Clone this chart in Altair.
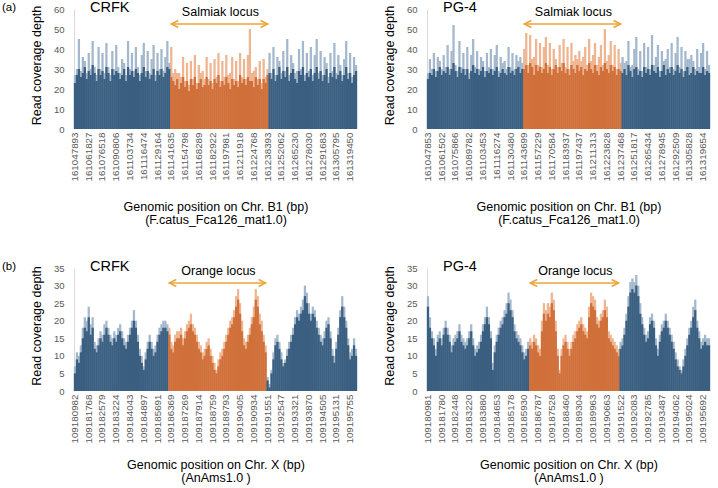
import json

import altair as alt
import pandas as pd

FONT = "Liberation Sans"
BLUE = "#3b5f80"
BLUE_TIP = "#a3b8cc"
ORANGE = "#d0703a"
ORANGE_TIP = "#efb590"
ARROW = "#eca43a"
LABEL_GREY = "#595959"

# ---- (a) Chr. B1, Salmiak locus -------------------------------------------
b1_crfk_ticks = ["161047893", "161061827", "161076518", "161090806", "161103734",
                 "161116474", "161129164", "161141635", "161154798", "161168289",
                 "161182922", "161197981", "161211918", "161224768", "161238393",
                 "161252062", "161265230", "161278030", "161291683", "161305795",
                 "161319450"]
b1_pg4_ticks = ["161047853", "161061502", "161075866", "161089782", "161103453",
                "161116274", "161130480", "161143699", "161157229", "161170584",
                "161183937", "161197437", "161211313", "161223828", "161237468",
                "161251817", "161265434", "161278945", "161292509", "161305828",
                "161319654"]

# per-bin peak depth (tip) and typical depth (depth)
b1_crfk_tip = [
    27, 30, 45, 29, 36, 34, 28, 38, 30, 44, 31, 27, 41, 30, 38, 28, 43, 31, 27, 39,
    30, 42, 31, 28, 35, 33, 27, 44, 30, 38, 29, 41, 31, 27, 37, 43, 29, 39, 28, 35,
    42, 27, 38, 30, 40, 29, 36, 44, 33,
    41, 28, 30, 28, 28, 26, 36, 24, 33, 22, 34, 25, 37, 23, 32, 28, 29, 25, 36, 25,
    33, 23, 35, 26, 38, 24, 34, 26, 37, 27, 28, 36, 25, 34, 24, 38, 26, 35, 25, 37,
    50, 28, 29, 31, 25, 34, 23, 35, 26, 30,
    38, 28, 41, 27, 36, 34, 28, 39, 29, 45, 27, 37, 33, 28, 29, 40, 30, 44, 27, 38,
    29, 41, 27, 37, 45, 28, 39, 27, 36, 33, 26, 38, 29, 43, 28, 37, 32, 27, 35, 44,
    28, 38, 26, 36, 32]
b1_crfk_depth = [
    23, 27, 30, 26, 28, 31, 25, 29, 27, 32, 28, 24, 30, 27, 29, 25, 31, 28, 24, 30,
    27, 29, 28, 25, 27, 30, 24, 31, 27, 29, 26, 30, 28, 24, 28, 31, 26, 29, 25, 27,
    30, 24, 29, 27, 30, 26, 28, 31, 30,
    26, 24, 22, 25, 20, 23, 26, 21, 24, 19, 25, 22, 26, 20, 23, 25, 21, 22, 26, 22,
    24, 20, 25, 23, 27, 21, 24, 22, 26, 23, 20, 25, 22, 24, 21, 27, 23, 25, 22, 26,
    24, 24, 21, 26, 22, 25, 20, 25, 23, 27,
    28, 25, 30, 24, 27, 31, 25, 29, 26, 31, 24, 28, 30, 25, 23, 29, 27, 31, 24, 28,
    26, 30, 24, 28, 31, 25, 29, 24, 27, 30, 23, 28, 26, 31, 25, 27, 29, 24, 27, 31,
    25, 28, 23, 27, 29]
b1_pg4_tip = [
    28, 35, 30, 38, 29, 36, 34, 30, 37, 31, 42, 30, 39, 52, 32, 29, 44, 31, 38, 30,
    41, 28, 37, 45, 31, 39, 30, 36, 34, 29, 38, 31, 40, 30, 37, 42, 29, 36, 33, 34,
    30, 41, 31, 38, 30, 37, 34, 36, 33,
    40, 48, 32, 47, 35, 36, 45, 32, 43, 31, 41, 46, 32, 43, 30, 40, 35, 31, 42, 33,
    45, 31, 41, 30, 43, 34, 37, 35, 39, 34, 36, 41, 32, 45, 34, 37, 43, 32, 36, 42,
    32, 50, 34, 37, 44, 32, 42, 30, 40, 33,
    36, 33, 34, 44, 31, 32, 40, 46, 30, 39, 29, 43, 31, 41, 30, 47, 32, 36, 42, 29,
    39, 34, 35, 40, 31, 43, 30, 38, 46, 31, 41, 29, 39, 35, 35, 37, 34, 30, 40, 31,
    38, 43, 30, 39, 32]
b1_pg4_depth = [
    25, 28, 27, 30, 26, 29, 31, 27, 29, 28, 31, 27, 30, 33, 29, 26, 31, 28, 30, 27,
    30, 25, 29, 32, 28, 30, 27, 29, 31, 26, 29, 28, 30, 27, 29, 31, 26, 28, 30, 28,
    27, 31, 28, 29, 27, 30, 31, 28, 30,
    30, 32, 28, 33, 31, 27, 32, 29, 31, 28, 30, 33, 28, 31, 27, 30, 32, 28, 31, 29,
    33, 28, 30, 27, 32, 30, 28, 32, 29, 31, 27, 30, 29, 33, 30, 28, 32, 29, 27, 31,
    29, 33, 30, 28, 32, 29, 31, 27, 30, 29,
    28, 30, 27, 32, 29, 26, 30, 31, 27, 29, 26, 31, 28, 30, 27, 32, 29, 28, 31, 26,
    29, 32, 27, 30, 28, 31, 27, 29, 32, 28, 30, 26, 29, 31, 27, 28, 31, 27, 29, 28,
    28, 31, 27, 29, 28]

# ---- (b) Chr. X, Orange locus ---------------------------------------------
x_crfk_ticks = ["109180982", "109181768", "109182579", "109183224", "109184043",
                "109184897", "109185691", "109186369", "109187269", "109187914",
                "109188759", "109189793", "109190405", "109190934", "109191551",
                "109192547", "109193321", "109193870", "109194505", "109195131",
                "109195755"]
x_pg4_ticks = ["109180981", "109181780", "109182448", "109183220", "109183880",
               "109184653", "109185178", "109185930", "109186787", "109187528",
               "109188460", "109189304", "109189963", "109190663", "109191522",
               "109192083", "109192785", "109193487", "109194062", "109195024",
               "109195692"]

x_crfk_tip = [
    7, 11, 10, 13, 18, 21, 20, 24, 19, 21, 14, 13, 15, 17, 16, 19, 20, 18, 16, 15,
    17, 16, 18, 19, 17, 15, 14, 16, 18, 20, 23, 20, 16, 12, 10, 7, 11, 14, 16, 14,
    12, 13, 16, 18, 19, 20, 20, 19, 18, 14, 13, 16, 17, 17, 18, 15, 17, 19, 20, 22,
    19, 18, 16, 14, 13, 11, 12, 14, 15, 12, 10, 8, 6, 9, 11, 12, 14, 16, 18, 20,
    21, 23, 27, 29, 25, 20, 15, 14, 16, 18, 21, 24, 29, 27, 22, 20, 16, 13, 4, 2,
    6, 11, 15, 16, 14, 11, 8, 9, 12, 14, 16, 18, 21, 23, 22, 24, 26, 30, 28, 25,
    22, 24, 23, 20, 18, 16, 15, 17, 20, 21, 17, 12, 10, 14, 18, 23, 27, 24, 20, 15,
    11, 12, 15, 12]
x_crfk_depth = [
    5, 9, 8, 11, 15, 18, 17, 21, 16, 18, 12, 11, 13, 15, 14, 16, 18, 16, 14, 13,
    15, 14, 16, 17, 15, 13, 12, 14, 16, 18, 20, 18, 14, 10, 8, 6, 9, 12, 14, 12,
    10, 11, 14, 16, 17, 18, 18, 17, 16, 12, 11, 14, 15, 15, 16, 13, 15, 17, 18, 19,
    17, 16, 14, 12, 11, 9, 10, 12, 13, 10, 8, 6, 5, 7, 9, 10, 12, 14, 16, 18,
    19, 21, 24, 26, 22, 17, 13, 12, 14, 16, 19, 21, 26, 24, 19, 17, 14, 11, 3, 1,
    5, 9, 13, 14, 12, 9, 7, 8, 10, 12, 14, 16, 19, 21, 20, 22, 23, 27, 25, 22,
    20, 22, 21, 18, 16, 14, 13, 15, 18, 19, 15, 10, 8, 12, 16, 21, 24, 21, 18, 13,
    9, 10, 13, 10]
x_pg4_tip = [
    27, 21, 17, 15, 12, 16, 17, 15, 18, 20, 18, 16, 13, 15, 16, 17, 19, 16, 15, 14,
    15, 17, 19, 15, 12, 13, 14, 16, 19, 21, 24, 21, 17, 8, 13, 16, 18, 20, 21, 23,
    25, 28, 26, 23, 19, 17, 16, 15, 13, 11, 12, 14, 15, 14, 16, 15, 13, 12, 20, 25,
    23, 25, 24, 28, 26, 20, 12, 6, 12, 15, 16, 14, 12, 14, 16, 17, 19, 20, 21, 19,
    18, 17, 24, 28, 27, 26, 21, 20, 22, 23, 26, 24, 17, 16, 15, 14, 13, 12, 14, 15,
    18, 22, 27, 31, 32, 31, 33, 30, 25, 21, 18, 16, 17, 21, 22, 20, 15, 12, 16, 19,
    20, 22, 20, 18, 16, 14, 11, 9, 7, 6, 9, 12, 15, 18, 20, 24, 26, 20, 17, 14,
    15, 16, 15, 15]
x_pg4_depth = [
    24, 18, 15, 13, 10, 14, 15, 13, 16, 18, 16, 14, 11, 13, 14, 15, 17, 14, 13, 12,
    13, 15, 17, 13, 10, 11, 12, 14, 17, 19, 21, 19, 15, 6, 11, 14, 16, 18, 19, 21,
    22, 25, 23, 21, 17, 15, 14, 13, 11, 9, 10, 12, 13, 12, 14, 13, 11, 10, 17, 22,
    20, 22, 21, 25, 23, 17, 10, 5, 10, 13, 14, 12, 10, 12, 14, 15, 17, 18, 19, 17,
    16, 15, 21, 25, 24, 23, 19, 18, 20, 21, 23, 21, 15, 14, 13, 12, 11, 10, 12, 13,
    16, 20, 24, 28, 29, 28, 30, 27, 22, 19, 16, 14, 15, 19, 20, 18, 13, 10, 14, 17,
    18, 20, 18, 16, 14, 12, 9, 7, 6, 5, 7, 10, 13, 16, 18, 21, 23, 18, 15, 12,
    13, 14, 13, 13]

TICK_EVERY = 7  # one labelled position every 7 bins


def coverage_panel(sample, tips, depth, ticks, locus, locus_name, ymax, ystep,
                   height, x_title, title_gap, tag=None):
    n = len(depth)
    assert len(tips) == n, (sample, len(tips), n)
    first, last = locus
    df = pd.DataFrame({
        "bar": list(range(n)),
        "tip": tips,
        "depth": depth,
        "in_locus": [first <= i <= last for i in range(n)],
    })
    ann = pd.DataFrame({"start": [first], "end": [last],
                        "mid": [(first + last + 1) // 2], "label": [locus_name]})

    x = alt.X(
        "bar:O",
        scale=alt.Scale(paddingInner=0, paddingOuter=0),
        axis=alt.Axis(
            values=list(range(0, TICK_EVERY * len(ticks), TICK_EVERY)),
            labelExpr=f"{json.dumps(ticks)}[datum.value / {TICK_EVERY}]",
            labelAngle=-90, labelFontSize=9.8, labelColor=LABEL_GREY,
            labelPadding=3, labelOverlap=False, ticks=False, domain=False,
            title=x_title, titleFontSize=12.5, titleFontWeight="normal",
            titleColor="black", titlePadding=title_gap, titleLineHeight=13.5,
        ),
    )
    y_axis = alt.Axis(
        values=list(range(0, ymax + 1, ystep)), grid=False, ticks=False,
        domainColor="#d9d9d9", labelFontSize=9.5, labelColor=LABEL_GREY,
        labelPadding=10, labelOverlap=False, title="Read coverage depth",
        titleFontSize=12.5, titleFontWeight="normal", titleColor="black",
        titlePadding=10, titleY=height / 2 - 4,
    )
    y_scale = alt.Scale(domain=[0, ymax], nice=False)

    base = alt.Chart(df).encode(x=x)
    tip_bars = base.mark_bar(width={"band": 1.15}).encode(
        y=alt.Y("tip:Q", scale=y_scale, axis=y_axis),
        color=alt.condition("datum.in_locus", alt.value(ORANGE_TIP), alt.value(BLUE_TIP)),
    )
    depth_bars = base.mark_bar(width={"band": 1.15}).encode(
        y=alt.Y("depth:Q", scale=y_scale, axis=y_axis),
        color=alt.condition("datum.in_locus", alt.value(ORANGE), alt.value(BLUE)),
    )

    arrow_y = 15
    a = alt.Chart(ann)
    shaft = a.mark_rule(color=ARROW, strokeWidth=1.5).encode(
        x="start:O", x2="end", y=alt.value(arrow_y))
    head_l = a.mark_point(shape="M2,-1L0,0L2,1", size=49, filled=False,
                          color=ARROW, strokeWidth=1.5, opacity=1).encode(
        x="start:O", y=alt.value(arrow_y))
    head_r = a.mark_point(shape="M-2,-1L0,0L-2,1", size=49, filled=False,
                          color=ARROW, strokeWidth=1.5, opacity=1).encode(
        x="end:O", y=alt.value(arrow_y))
    locus_text = a.mark_text(fontSize=12.5, color="black").encode(
        x="mid:O", y=alt.value(3), text="label:N")
    sample_text = a.mark_text(text=sample, fontSize=14.5, color="black",
                              align="left").encode(x=alt.value(16), y=alt.value(-1))

    layers = [tip_bars, depth_bars, shaft, head_l, head_r, locus_text, sample_text]
    if tag:
        layers.append(a.mark_text(text=tag, fontSize=11.5, color="black",
                                  align="left").encode(x=alt.value(-72), y=alt.value(-1)))
    return alt.layer(*layers).properties(width=283, height=height)


b1_title = ["Genomic position on Chr. B1 (bp)", "(F.catus_Fca126_mat1.0)"]
x_title = ["Genomic position on Chr. X (bp)", "(AnAms1.0 )"]

panels = [
    coverage_panel("CRFK", b1_crfk_tip, b1_crfk_depth, b1_crfk_ticks, (49, 98),
                   "Salmiak locus", 60, 10, 120, b1_title, 19, tag="(a)"),
    coverage_panel("PG-4", b1_pg4_tip, b1_pg4_depth, b1_pg4_ticks, (49, 98),
                   "Salmiak locus", 60, 10, 120, b1_title, 19),
    coverage_panel("CRFK", x_crfk_tip, x_crfk_depth, x_crfk_ticks, (48, 97),
                   "Orange locus", 35, 5, 123, x_title, 15, tag="(b)"),
    coverage_panel("PG-4", x_pg4_tip, x_pg4_depth, x_pg4_ticks, (52, 97),
                   "Orange locus", 35, 5, 123, x_title, 15),
]

chart = (
    alt.concat(*panels, columns=2, spacing={"row": 139, "column": 70}, bounds="flush")
    .properties(padding={"left": 2, "top": 0, "right": 0, "bottom": 0})
    .configure(font=FONT)
    .configure_view(stroke=None)
)

chart.save("out.html", embed_options={"renderer": "svg", "actions": False})
